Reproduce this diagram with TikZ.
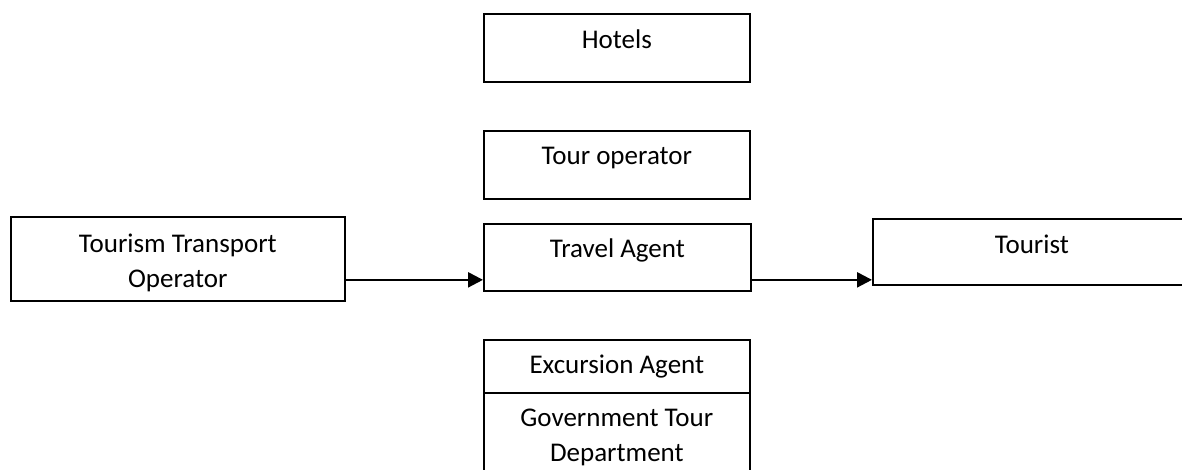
\documentclass[tikz,border=0pt]{standalone}
\usepackage{fontspec}
\setmainfont{Carlito}
\usetikzlibrary{arrows.meta,calc}
\begin{document}
\begin{tikzpicture}[x=1pt,y=-1pt,
  box/.style={draw=black,line width=1.7pt,rectangle,inner sep=0pt,anchor=north west},
  txt/.style={inner sep=0pt,font=\fontsize{27}{34.5}\selectfont,align=center,anchor=base},
  arr/.style={line width=2.4pt,-{Triangle[length=15pt,width=15pt]}}]
\useasboundingbox (0,0) rectangle (1182,470);
\clip (0,0) rectangle (1182,470);
\node[box,minimum width=266pt,minimum height=68pt] (hotels) at (483,13) {};
\node[box,minimum width=266pt,minimum height=68pt] (tourop) at (483,130) {};
\node[box,minimum width=267pt,minimum height=67pt] (ta) at (483,223) {};
\node[box,minimum width=334pt,minimum height=84pt] (tto) at (10,216) {};
\node[box,minimum width=318pt,minimum height=66pt] (tourist) at (872,218) {};
\node[box,minimum width=266pt,minimum height=53pt] (exc) at (483,339) {};
\node[box,minimum width=266pt,minimum height=100pt] (gov) at (483,392) {};
\node[txt] (hotelsT) at ([yshift=-36pt]hotels.north) {Hotels};
\node[txt] (touropT) at ([yshift=-35pt]tourop.north) {Tour operator};
\node[txt] (taT) at ([yshift=-35pt]ta.north) {Travel Agent};
\node[txt] (ttoT) at ([yshift=-71pt]tto.north) {Tourism Transport\\Operator};
\node[txt] (touristT) at ([yshift=-35pt]tourist.north) {Tourist};
\node[txt] (excT) at ([yshift=-34pt]exc.north) {Excursion Agent};
\node[txt] (govT) at ([yshift=-69pt]gov.north) {Government Tour\\Department};
\draw[arr] ([yshift=-21pt]tto.east) -- ([yshift=-21pt]tto.east -| ta.west);
\draw[arr] ([yshift=-22.5pt]ta.east) -- ([yshift=-22.5pt]ta.east -| tourist.west);
\end{tikzpicture}
\end{document}
